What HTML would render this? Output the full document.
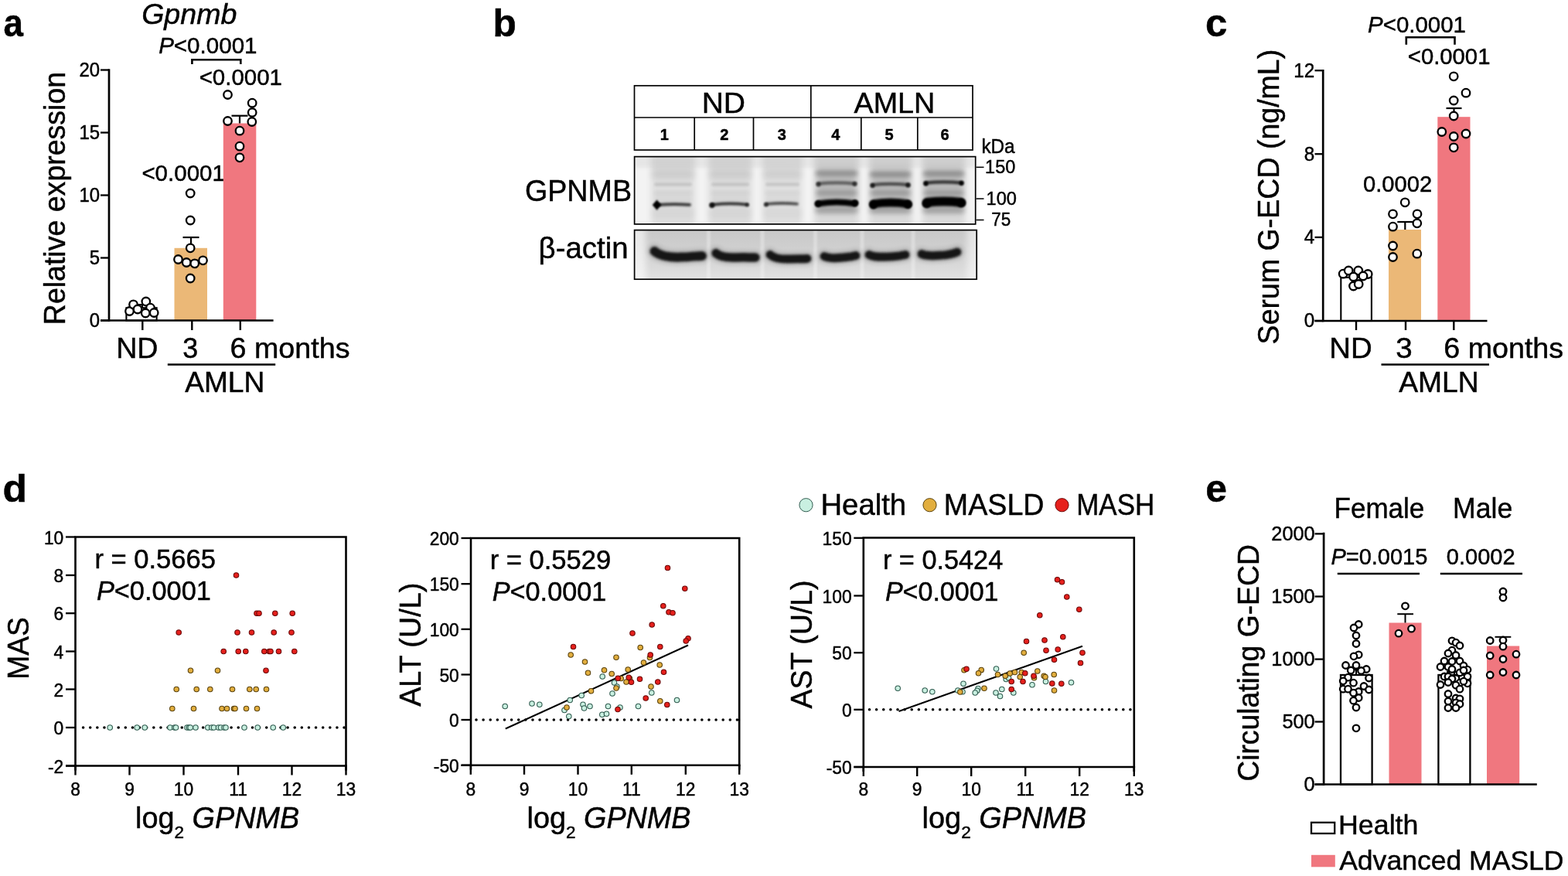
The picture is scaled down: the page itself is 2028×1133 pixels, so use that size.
<!DOCTYPE html>
<html lang="en"><head><meta charset="utf-8"><title>Figure</title>
<style>
html,body{margin:0;padding:0;background:#fff;}
body{width:2028px;height:1133px;overflow:hidden;}
svg{display:block;position:absolute;left:0;top:0;}
text{font-family:"Liberation Sans",sans-serif;fill:#000;stroke:#000;stroke-width:0.45px;}
</style></head><body>
<svg width="2028" height="1133" viewBox="0 0 2028 1133">
<rect x="0" y="0" width="2028" height="1133" fill="#fff"/>
<g id="panel-a">
<text id="t1" transform="translate(4.53 46.5) scale(0.9625 1.04)" font-size="47.5" text-anchor="start" font-weight="bold" >a</text>
<text id="t2" transform="translate(244.74 30.6) scale(1.044 1.04)" font-size="36" text-anchor="middle" font-style="italic" >Gpnmb</text>
<text id="t3" transform="translate(268.84 69) scale(1.0198 1.04)" font-size="29" text-anchor="middle" ><tspan font-style="italic">P</tspan>&lt;0.0001</text>
<path d="M248.4 83 V77.2 H311.3 V83" fill="none" stroke="#000" stroke-width="2.6"/>
<text id="t4" transform="translate(311.25 110.3) scale(1.0158 1.04)" font-size="29" text-anchor="middle" >&lt;0.0001</text>
<text id="t5" transform="translate(237.12 234.3) scale(1.0174 1.04)" font-size="29" text-anchor="middle" >&lt;0.0001</text>
<rect x="163.4" y="398.2" width="39.2" height="16.3" fill="#fff" stroke="#000" stroke-width="2.1" />
<rect x="225.5" y="320.8" width="42.5" height="93.69999999999999" fill="#EBB877" stroke="none" stroke-width="0" />
<rect x="288.8" y="159.5" width="42.5" height="255.0" fill="#F0777F" stroke="none" stroke-width="0" />
<line x1="247" y1="320.8" x2="247" y2="307" stroke="#000" stroke-width="2.2" />
<line x1="236.5" y1="307" x2="257.5" y2="307" stroke="#000" stroke-width="2.2" />
<line x1="310" y1="159.5" x2="310" y2="149.7" stroke="#000" stroke-width="2.2" />
<line x1="299.5" y1="149.7" x2="320.5" y2="149.7" stroke="#000" stroke-width="2.2" />
<line x1="184" y1="398" x2="184" y2="394" stroke="#000" stroke-width="2" />
<line x1="176" y1="394" x2="192" y2="394" stroke="#000" stroke-width="2" />
<line x1="141" y1="89.3" x2="141" y2="415.8" stroke="#000" stroke-width="2.7" />
<line x1="130" y1="414.5" x2="353.6" y2="414.5" stroke="#000" stroke-width="2.7" />
<line x1="130" y1="90.5" x2="141" y2="90.5" stroke="#000" stroke-width="2.3" />
<text id="t6" transform="translate(129.2 98.9) scale(1 1.04)" font-size="24" text-anchor="end" >20</text>
<line x1="130" y1="171.5" x2="141" y2="171.5" stroke="#000" stroke-width="2.3" />
<text id="t7" transform="translate(129.2 179.9) scale(1 1.04)" font-size="24" text-anchor="end" >15</text>
<line x1="130" y1="252.5" x2="141" y2="252.5" stroke="#000" stroke-width="2.3" />
<text id="t8" transform="translate(129.2 260.9) scale(1 1.04)" font-size="24" text-anchor="end" >10</text>
<line x1="130" y1="333.5" x2="141" y2="333.5" stroke="#000" stroke-width="2.3" />
<text id="t9" transform="translate(129.2 341.9) scale(1 1.04)" font-size="24" text-anchor="end" >5</text>
<line x1="130" y1="414.5" x2="141" y2="414.5" stroke="#000" stroke-width="2.3" />
<text id="t10" transform="translate(129.2 422.9) scale(1 1.04)" font-size="24" text-anchor="end" >0</text>
<line x1="184.3" y1="414.5" x2="184.3" y2="427" stroke="#000" stroke-width="2.4" />
<line x1="248.3" y1="414.5" x2="248.3" y2="427" stroke="#000" stroke-width="2.4" />
<line x1="310.8" y1="414.5" x2="310.8" y2="427" stroke="#000" stroke-width="2.4" />
<circle cx="294.5" cy="122.5" r="5.25" fill="#fff" stroke="#000" stroke-width="2.3"/>
<circle cx="326.2" cy="133.2" r="5.25" fill="#fff" stroke="#000" stroke-width="2.3"/>
<circle cx="326.2" cy="145.5" r="5.25" fill="#fff" stroke="#000" stroke-width="2.3"/>
<circle cx="294.5" cy="156.5" r="5.25" fill="#fff" stroke="#000" stroke-width="2.3"/>
<circle cx="325.8" cy="157.5" r="5.25" fill="#fff" stroke="#000" stroke-width="2.3"/>
<circle cx="310" cy="169.2" r="5.25" fill="#fff" stroke="#000" stroke-width="2.3"/>
<circle cx="310" cy="189.2" r="5.25" fill="#fff" stroke="#000" stroke-width="2.3"/>
<circle cx="310" cy="203.8" r="5.25" fill="#fff" stroke="#000" stroke-width="2.3"/>
<circle cx="246.2" cy="250" r="5.25" fill="#fff" stroke="#000" stroke-width="2.3"/>
<circle cx="246.2" cy="285" r="5.25" fill="#fff" stroke="#000" stroke-width="2.3"/>
<circle cx="246.2" cy="320.8" r="5.25" fill="#fff" stroke="#000" stroke-width="2.3"/>
<circle cx="230.5" cy="335.5" r="5.25" fill="#fff" stroke="#000" stroke-width="2.3"/>
<circle cx="241.2" cy="339.5" r="5.25" fill="#fff" stroke="#000" stroke-width="2.3"/>
<circle cx="251.8" cy="340.8" r="5.25" fill="#fff" stroke="#000" stroke-width="2.3"/>
<circle cx="262.5" cy="336.8" r="5.25" fill="#fff" stroke="#000" stroke-width="2.3"/>
<circle cx="246.2" cy="360" r="5.25" fill="#fff" stroke="#000" stroke-width="2.3"/>
<circle cx="167.5" cy="402.5" r="5.25" fill="#fff" stroke="#000" stroke-width="2.3"/>
<circle cx="172.5" cy="393.8" r="5.25" fill="#fff" stroke="#000" stroke-width="2.3"/>
<circle cx="178" cy="400" r="5.25" fill="#fff" stroke="#000" stroke-width="2.3"/>
<circle cx="188.8" cy="390" r="5.25" fill="#fff" stroke="#000" stroke-width="2.3"/>
<circle cx="194.5" cy="398.2" r="5.25" fill="#fff" stroke="#000" stroke-width="2.3"/>
<circle cx="188.2" cy="405" r="5.25" fill="#fff" stroke="#000" stroke-width="2.3"/>
<circle cx="199.2" cy="404.5" r="5.25" fill="#fff" stroke="#000" stroke-width="2.3"/>
<text id="t11" transform="translate(83.8 256.52) rotate(-90) scale(1.014 1.04)" font-size="37" text-anchor="middle" >Relative expression</text>
<text id="t12" transform="translate(177.32 462.6) scale(1.0448 1.04)" font-size="36" text-anchor="middle" >ND</text>
<text id="t13" transform="translate(246.29 462.6) scale(0.9954 1.04)" font-size="36" text-anchor="middle" >3</text>
<text id="t14" transform="translate(297.56 462.6) scale(1.0471 1.04)" font-size="36" text-anchor="start" >6 months</text>
<line x1="216.8" y1="471.5" x2="356.2" y2="471.5" stroke="#000" stroke-width="2.5" />
<text id="t15" transform="translate(290.73 506.6) scale(1.0544 1.04)" font-size="35.2" text-anchor="middle" >AMLN</text>
</g>
<g id="panel-b">
<text id="t16" transform="translate(637.59 46.5) scale(1.0332 1.04)" font-size="48" text-anchor="start" font-weight="bold" >b</text>
<rect x="820.5" y="110.8" width="437.5" height="83.2" fill="#fff" stroke="#000" stroke-width="1.7" />
<line x1="820.5" y1="152" x2="1258" y2="152" stroke="#000" stroke-width="1.7" />
<line x1="1048.8" y1="110.8" x2="1048.8" y2="194" stroke="#000" stroke-width="1.7" />
<line x1="898.2" y1="152" x2="898.2" y2="194" stroke="#000" stroke-width="1.7" />
<line x1="974.5" y1="152" x2="974.5" y2="194" stroke="#000" stroke-width="1.7" />
<line x1="1113.8" y1="152" x2="1113.8" y2="194" stroke="#000" stroke-width="1.7" />
<line x1="1186.8" y1="152" x2="1186.8" y2="194" stroke="#000" stroke-width="1.7" />
<text id="t17" transform="translate(935.79 146.3) scale(1.0839 1.04)" font-size="36" text-anchor="middle" >ND</text>
<text id="t18" transform="translate(1156.9 146.3) scale(1.0475 1.04)" font-size="36" text-anchor="middle" >AMLN</text>
<text id="t19" transform="translate(859.2 180.8) scale(1 1.04)" font-size="20" text-anchor="middle" font-weight="bold" >1</text>
<text id="t20" transform="translate(936.8 180.8) scale(1 1.04)" font-size="20" text-anchor="middle" font-weight="bold" >2</text>
<text id="t21" transform="translate(1011.2 180.8) scale(1 1.04)" font-size="20" text-anchor="middle" font-weight="bold" >3</text>
<text id="t22" transform="translate(1080.8 180.8) scale(1 1.04)" font-size="20" text-anchor="middle" font-weight="bold" >4</text>
<text id="t23" transform="translate(1150 180.8) scale(1 1.04)" font-size="20" text-anchor="middle" font-weight="bold" >5</text>
<text id="t24" transform="translate(1222 180.8) scale(1 1.04)" font-size="20" text-anchor="middle" font-weight="bold" >6</text>
<text id="t25" transform="translate(1269.38 197.8) scale(1.012 1.04)" font-size="24" text-anchor="start" >kDa</text>
<defs>
<filter id="bl0" filterUnits="userSpaceOnUse" x="790" y="180" width="500" height="200"><feGaussianBlur stdDeviation="1.0"/></filter>
<filter id="bl1" filterUnits="userSpaceOnUse" x="790" y="180" width="500" height="200"><feGaussianBlur stdDeviation="1.3"/></filter>
<filter id="bl15" filterUnits="userSpaceOnUse" x="790" y="180" width="500" height="200"><feGaussianBlur stdDeviation="1.8"/></filter>
<filter id="bl2" filterUnits="userSpaceOnUse" x="790" y="180" width="500" height="200"><feGaussianBlur stdDeviation="2.6"/></filter>
<filter id="bl3" filterUnits="userSpaceOnUse" x="790" y="180" width="500" height="200"><feGaussianBlur stdDeviation="4"/></filter>
<linearGradient id="bgA" x1="0" y1="0" x2="0" y2="1"><stop offset="0" stop-color="#c8c8c8"/><stop offset="0.3" stop-color="#cecece"/><stop offset="0.62" stop-color="#d6d6d6"/><stop offset="1" stop-color="#e3e3e3"/></linearGradient>
<clipPath id="cpG"><rect x="821" y="203" width="440.3" height="86.5"/></clipPath>
<clipPath id="cpA"><rect x="821" y="298" width="441.8" height="62.8"/></clipPath>
</defs>
<g clip-path="url(#cpG)">
<rect x="820" y="202" width="443" height="89" fill="#f3f3f3" stroke="none" stroke-width="0" />
<rect x="842" y="196" width="57" height="100" fill="#000" opacity="0.085" filter="url(#bl3)"/>
<rect x="916" y="196" width="56.5" height="100" fill="#000" opacity="0.09" filter="url(#bl3)"/>
<rect x="986" y="196" width="51.5" height="100" fill="#000" opacity="0.08" filter="url(#bl3)"/>
<rect x="1053" y="196" width="58" height="100" fill="#000" opacity="0.1" filter="url(#bl3)"/>
<rect x="1124" y="196" width="56" height="100" fill="#000" opacity="0.1" filter="url(#bl3)"/>
<rect x="1192.5" y="196" width="56.0" height="100" fill="#000" opacity="0.1" filter="url(#bl3)"/>
<rect x="821" y="203" width="441" height="14" fill="#000" opacity="0.05" filter="url(#bl2)"/>
<path d="M848 225 Q870.5 225 893 225" fill="none" stroke="#000" stroke-width="11" stroke-linecap="round" opacity="0.085" filter="url(#bl3)"/>
<path d="M848 238.5 Q870.5 238.5 893 238.5" fill="none" stroke="#000" stroke-width="4" stroke-linecap="round" opacity="0.12" filter="url(#bl15)"/>
<path d="M848 250 Q870.5 250 893 250" fill="none" stroke="#000" stroke-width="5" stroke-linecap="round" opacity="0.06" filter="url(#bl2)"/>
<path d="M848 258 Q870.5 258 893 258" fill="none" stroke="#000" stroke-width="4" stroke-linecap="round" opacity="0.05" filter="url(#bl2)"/>
<path d="M848 276 Q870.5 276 893 276" fill="none" stroke="#000" stroke-width="12" stroke-linecap="round" opacity="0.04" filter="url(#bl3)"/>
<path d="M922 225 Q944.5 225 967 225" fill="none" stroke="#000" stroke-width="11" stroke-linecap="round" opacity="0.085" filter="url(#bl3)"/>
<path d="M922 238.5 Q944.5 238.5 967 238.5" fill="none" stroke="#000" stroke-width="4" stroke-linecap="round" opacity="0.12" filter="url(#bl15)"/>
<path d="M922 250 Q944.5 250 967 250" fill="none" stroke="#000" stroke-width="5" stroke-linecap="round" opacity="0.06" filter="url(#bl2)"/>
<path d="M922 258 Q944.5 258 967 258" fill="none" stroke="#000" stroke-width="4" stroke-linecap="round" opacity="0.05" filter="url(#bl2)"/>
<path d="M922 276 Q944.5 276 967 276" fill="none" stroke="#000" stroke-width="12" stroke-linecap="round" opacity="0.04" filter="url(#bl3)"/>
<path d="M992 225 Q1012.0 225 1032 225" fill="none" stroke="#000" stroke-width="11" stroke-linecap="round" opacity="0.085" filter="url(#bl3)"/>
<path d="M992 238.5 Q1012.0 238.5 1032 238.5" fill="none" stroke="#000" stroke-width="4" stroke-linecap="round" opacity="0.12" filter="url(#bl15)"/>
<path d="M992 250 Q1012.0 250 1032 250" fill="none" stroke="#000" stroke-width="5" stroke-linecap="round" opacity="0.06" filter="url(#bl2)"/>
<path d="M992 258 Q1012.0 258 1032 258" fill="none" stroke="#000" stroke-width="4" stroke-linecap="round" opacity="0.05" filter="url(#bl2)"/>
<path d="M992 276 Q1012.0 276 1032 276" fill="none" stroke="#000" stroke-width="12" stroke-linecap="round" opacity="0.04" filter="url(#bl3)"/>
<path d="M852 264.8 Q872.0 263.3 892 264.8" fill="none" stroke="#000" stroke-width="3.8" stroke-linecap="round" opacity="0.8" filter="url(#bl15)"/>
<path d="M849.6 258.6 L855.4 265 L849.6 271.8 L843.8 265 Z" fill="#000" opacity="1" filter="url(#bl0)"/>
<path d="M923 264.6 Q944.5 262.20000000000005 966 264.6" fill="none" stroke="#000" stroke-width="3.8" stroke-linecap="round" opacity="0.82" filter="url(#bl15)"/>
<circle cx="920.8" cy="265.3" r="3.6" fill="#000" opacity="0.9" filter="url(#bl1)"/>
<circle cx="966.5" cy="264.8" r="2.6" fill="#000" opacity="0.6" filter="url(#bl1)"/>
<path d="M993 263.8 Q1012.0 262.0 1031 263.8" fill="none" stroke="#000" stroke-width="3.6" stroke-linecap="round" opacity="0.7" filter="url(#bl15)"/>
<circle cx="990.8" cy="264.5" r="3" fill="#000" opacity="0.75" filter="url(#bl1)"/>
<rect x="1056" y="218" width="52" height="58" fill="#000" opacity="0.15" filter="url(#bl3)"/>
<path d="M1058 224 Q1082.0 224 1106 224" fill="none" stroke="#000" stroke-width="7" stroke-linecap="round" opacity="0.22" filter="url(#bl2)"/>
<path d="M1058 237.6 Q1082.0 235.1 1106 237.6" fill="none" stroke="#000" stroke-width="4.2" stroke-linecap="round" opacity="0.5" filter="url(#bl15)"/>
<path d="M1058 249.5 Q1082.0 249.5 1106 249.5" fill="none" stroke="#000" stroke-width="6" stroke-linecap="round" opacity="0.17" filter="url(#bl2)"/>
<path d="M1058 272 Q1082.0 272 1106 272" fill="none" stroke="#000" stroke-width="8" stroke-linecap="round" opacity="0.14" filter="url(#bl2)"/>
<circle cx="1058.5" cy="238.4" r="3.1" fill="#000" opacity="0.6" filter="url(#bl1)"/>
<circle cx="1105.5" cy="237.79999999999998" r="3.1" fill="#000" opacity="0.6" filter="url(#bl1)"/>
<rect x="1126" y="218" width="51" height="58" fill="#000" opacity="0.15" filter="url(#bl3)"/>
<path d="M1128 225.5 Q1151.5 225.5 1175 225.5" fill="none" stroke="#000" stroke-width="7" stroke-linecap="round" opacity="0.22" filter="url(#bl2)"/>
<path d="M1128 239.2 Q1151.5 236.7 1175 239.2" fill="none" stroke="#000" stroke-width="4.2" stroke-linecap="round" opacity="0.62" filter="url(#bl15)"/>
<path d="M1128 249.5 Q1151.5 249.5 1175 249.5" fill="none" stroke="#000" stroke-width="6" stroke-linecap="round" opacity="0.17" filter="url(#bl2)"/>
<path d="M1128 272 Q1151.5 272 1175 272" fill="none" stroke="#000" stroke-width="8" stroke-linecap="round" opacity="0.14" filter="url(#bl2)"/>
<circle cx="1128.5" cy="240.0" r="3.1" fill="#000" opacity="0.75" filter="url(#bl1)"/>
<circle cx="1174.5" cy="239.39999999999998" r="3.1" fill="#000" opacity="0.75" filter="url(#bl1)"/>
<rect x="1195" y="218" width="51" height="58" fill="#000" opacity="0.15" filter="url(#bl3)"/>
<path d="M1197 224.5 Q1220.5 224.5 1244 224.5" fill="none" stroke="#000" stroke-width="7" stroke-linecap="round" opacity="0.22" filter="url(#bl2)"/>
<path d="M1197 236.6 Q1220.5 234.1 1244 236.6" fill="none" stroke="#000" stroke-width="4.2" stroke-linecap="round" opacity="0.75" filter="url(#bl15)"/>
<path d="M1197 249.5 Q1220.5 249.5 1244 249.5" fill="none" stroke="#000" stroke-width="6" stroke-linecap="round" opacity="0.17" filter="url(#bl2)"/>
<path d="M1197 272 Q1220.5 272 1244 272" fill="none" stroke="#000" stroke-width="8" stroke-linecap="round" opacity="0.14" filter="url(#bl2)"/>
<circle cx="1197.5" cy="237.4" r="3.1" fill="#000" opacity="0.95" filter="url(#bl1)"/>
<circle cx="1243.5" cy="236.79999999999998" r="3.1" fill="#000" opacity="0.95" filter="url(#bl1)"/>
<path d="M1059.5 263.2 Q1082.25 259.7 1105 263.2" fill="none" stroke="#000" stroke-width="8" stroke-linecap="round" opacity="1" filter="url(#bl15)"/>
<circle cx="1057.8" cy="263.6" r="4.4" fill="#000" filter="url(#bl1)"/>
<circle cx="1106" cy="262.6" r="4.4" fill="#000" filter="url(#bl1)"/>
<path d="M1130 263.6 Q1151.75 260.6 1173.5 263.6" fill="none" stroke="#000" stroke-width="11" stroke-linecap="round" opacity="1" filter="url(#bl15)"/>
<circle cx="1129.5" cy="265" r="5.4" fill="#000" filter="url(#bl1)"/>
<circle cx="1174.5" cy="264.5" r="5.4" fill="#000" filter="url(#bl1)"/>
<path d="M1199 261.8 Q1220.75 259.3 1242.5 261.8" fill="none" stroke="#000" stroke-width="12" stroke-linecap="round" opacity="1" filter="url(#bl15)"/>
<circle cx="1198.5" cy="263.5" r="5.8" fill="#000" filter="url(#bl1)"/>
<circle cx="1243.5" cy="262.5" r="5.8" fill="#000" filter="url(#bl1)"/>
</g>
<rect x="820.6" y="202.6" width="441.1" height="87.3" fill="none" stroke="#000" stroke-width="1.7" />
<line x1="1262.5" y1="216.3" x2="1272.5" y2="216.3" stroke="#000" stroke-width="1.5" />
<line x1="1262.5" y1="257" x2="1272.5" y2="257" stroke="#000" stroke-width="1.5" />
<line x1="1262.5" y1="284.5" x2="1272.5" y2="284.5" stroke="#000" stroke-width="1.5" />
<text id="t26" transform="translate(1313.25 224) scale(0.9994 1.04)" font-size="23.5" text-anchor="end" >150</text>
<text id="t27" transform="translate(1314.94 264.8) scale(1.0054 1.04)" font-size="23.5" text-anchor="end" >100</text>
<text id="t28" transform="translate(1307.36 292.3) scale(0.9568 1.04)" font-size="23.5" text-anchor="end" >75</text>
<g clip-path="url(#cpA)">
<rect x="820" y="297" width="445" height="66" fill="url(#bgA)" stroke="none" stroke-width="0" />
<rect x="810" y="290" width="25" height="80" fill="#fff" opacity="0.6" filter="url(#bl3)"/>
<rect x="1251" y="290" width="20" height="80" fill="#fff" opacity="0.5" filter="url(#bl3)"/>
<rect x="914.0" y="290" width="5" height="80" fill="#fff" opacity="0.3" filter="url(#bl1)"/>
<rect x="983.5" y="290" width="5" height="80" fill="#fff" opacity="0.3" filter="url(#bl1)"/>
<rect x="1052.0" y="290" width="5" height="80" fill="#fff" opacity="0.3" filter="url(#bl1)"/>
<rect x="1112.5" y="290" width="5" height="80" fill="#fff" opacity="0.3" filter="url(#bl1)"/>
<rect x="1178.5" y="290" width="5" height="80" fill="#fff" opacity="0.3" filter="url(#bl1)"/>
<path d="M846.5 325 C854 331.5 866 333 880 332.6 S900 331 908 331" fill="none" stroke="#000" stroke-width="19" stroke-linecap="round" stroke-linejoin="round" opacity="0.13" filter="url(#bl2)"/>
<path d="M846.5 325 C854 331.5 866 333 880 332.6 S900 331 908 331" fill="none" stroke="#141414" stroke-width="12" stroke-linecap="round" stroke-linejoin="round" filter="url(#bl15)"/>
<path d="M926 327.5 C931 332 940 333.5 952 333 S968 333 977 333" fill="none" stroke="#000" stroke-width="18.5" stroke-linecap="round" stroke-linejoin="round" opacity="0.13" filter="url(#bl2)"/>
<path d="M926 327.5 C931 332 940 333.5 952 333 S968 333 977 333" fill="none" stroke="#141414" stroke-width="11.5" stroke-linecap="round" stroke-linejoin="round" filter="url(#bl15)"/>
<path d="M996 329.5 C1001 334 1010 335.5 1022 335 S1037 335 1044 334.5" fill="none" stroke="#000" stroke-width="18" stroke-linecap="round" stroke-linejoin="round" opacity="0.13" filter="url(#bl2)"/>
<path d="M996 329.5 C1001 334 1010 335.5 1022 335 S1037 335 1044 334.5" fill="none" stroke="#141414" stroke-width="11" stroke-linecap="round" stroke-linejoin="round" filter="url(#bl15)"/>
<path d="M1066 331.5 C1072 334 1080 334 1088 333.2 S1100 332.5 1107 330.5" fill="none" stroke="#000" stroke-width="18" stroke-linecap="round" stroke-linejoin="round" opacity="0.13" filter="url(#bl2)"/>
<path d="M1066 331.5 C1072 334 1080 334 1088 333.2 S1100 332.5 1107 330.5" fill="none" stroke="#141414" stroke-width="11" stroke-linecap="round" stroke-linejoin="round" filter="url(#bl15)"/>
<path d="M1124 329.5 C1130 333 1140 332.5 1150 332 S1162 331.5 1171 329.5" fill="none" stroke="#000" stroke-width="18" stroke-linecap="round" stroke-linejoin="round" opacity="0.13" filter="url(#bl2)"/>
<path d="M1124 329.5 C1130 333 1140 332.5 1150 332 S1162 331.5 1171 329.5" fill="none" stroke="#141414" stroke-width="11" stroke-linecap="round" stroke-linejoin="round" filter="url(#bl15)"/>
<path d="M1192 328.5 C1198 331.5 1207 331 1216 330.3 S1230 329.5 1238 326" fill="none" stroke="#000" stroke-width="18" stroke-linecap="round" stroke-linejoin="round" opacity="0.13" filter="url(#bl2)"/>
<path d="M1192 328.5 C1198 331.5 1207 331 1216 330.3 S1230 329.5 1238 326" fill="none" stroke="#141414" stroke-width="11" stroke-linecap="round" stroke-linejoin="round" filter="url(#bl15)"/>
</g>
<rect x="820.6" y="297.6" width="442.6" height="63.6" fill="none" stroke="#000" stroke-width="1.7" />
<text id="t29" transform="translate(817.1 260) scale(1.0186 1.04)" font-size="37" text-anchor="end" >GPNMB</text>
<text id="t30" transform="translate(812.56 333.7) scale(1.0384 1.04)" font-size="37" text-anchor="end" >β-actin</text>
</g>
<g id="panel-c">
<text id="t31" transform="translate(1559.11 46.5) scale(1.0724 1.04)" font-size="47.5" text-anchor="start" font-weight="bold" >c</text>
<text id="t32" transform="translate(1832.49 41.5) scale(1.0156 1.04)" font-size="29" text-anchor="middle" ><tspan font-style="italic">P</tspan>&lt;0.0001</text>
<path d="M1818.8 57.7 V48.3 H1881.5 V57.7" fill="none" stroke="#000" stroke-width="2.6"/>
<text id="t33" transform="translate(1874.12 83) scale(1.0091 1.04)" font-size="29" text-anchor="middle" >&lt;0.0001</text>
<text id="t34" transform="translate(1807.52 248.3) scale(1.0066 1.04)" font-size="29" text-anchor="middle" >0.0002</text>
<rect x="1734.3" y="358.8" width="39.6" height="56.19999999999999" fill="#fff" stroke="#000" stroke-width="2.1" />
<rect x="1796" y="297" width="42" height="118" fill="#EBB877" stroke="none" stroke-width="0" />
<rect x="1859.3" y="151.2" width="42.2" height="263.8" fill="#F0777F" stroke="none" stroke-width="0" />
<line x1="1817.3" y1="297" x2="1817.3" y2="287" stroke="#000" stroke-width="2.2" />
<line x1="1807.3" y1="287" x2="1827.3" y2="287" stroke="#000" stroke-width="2.2" />
<line x1="1880.5" y1="151.2" x2="1880.5" y2="140" stroke="#000" stroke-width="2.2" />
<line x1="1870.5" y1="140" x2="1890.5" y2="140" stroke="#000" stroke-width="2.2" />
<line x1="1711.2" y1="90" x2="1711.2" y2="416.3" stroke="#000" stroke-width="2.7" />
<line x1="1700.5" y1="415" x2="1923.5" y2="415" stroke="#000" stroke-width="2.7" />
<line x1="1700.5" y1="91.2" x2="1711.2" y2="91.2" stroke="#000" stroke-width="2.3" />
<text id="t35" transform="translate(1700.2 99.60000000000001) scale(1 1.04)" font-size="24.2" text-anchor="end" >12</text>
<line x1="1700.5" y1="199.2" x2="1711.2" y2="199.2" stroke="#000" stroke-width="2.3" />
<text id="t36" transform="translate(1700.2 207.6) scale(1 1.04)" font-size="24.2" text-anchor="end" >8</text>
<line x1="1700.5" y1="306.9" x2="1711.2" y2="306.9" stroke="#000" stroke-width="2.3" />
<text id="t37" transform="translate(1700.2 315.29999999999995) scale(1 1.04)" font-size="24.2" text-anchor="end" >4</text>
<line x1="1700.5" y1="415" x2="1711.2" y2="415" stroke="#000" stroke-width="2.3" />
<text id="t38" transform="translate(1700.2 423.4) scale(1 1.04)" font-size="24.2" text-anchor="end" >0</text>
<line x1="1754" y1="415" x2="1754" y2="427" stroke="#000" stroke-width="2.4" />
<line x1="1818" y1="415" x2="1818" y2="427" stroke="#000" stroke-width="2.4" />
<line x1="1880.3" y1="415" x2="1880.3" y2="427" stroke="#000" stroke-width="2.4" />
<circle cx="1880.2" cy="98.8" r="5.25" fill="#fff" stroke="#000" stroke-width="2.3"/>
<circle cx="1896" cy="120.2" r="5.25" fill="#fff" stroke="#000" stroke-width="2.3"/>
<circle cx="1880.2" cy="130" r="5.25" fill="#fff" stroke="#000" stroke-width="2.3"/>
<circle cx="1880.2" cy="150" r="5.25" fill="#fff" stroke="#000" stroke-width="2.3"/>
<circle cx="1864.8" cy="170.5" r="5.25" fill="#fff" stroke="#000" stroke-width="2.3"/>
<circle cx="1896" cy="173" r="5.25" fill="#fff" stroke="#000" stroke-width="2.3"/>
<circle cx="1880.2" cy="176.5" r="5.25" fill="#fff" stroke="#000" stroke-width="2.3"/>
<circle cx="1880.2" cy="190.8" r="5.25" fill="#fff" stroke="#000" stroke-width="2.3"/>
<circle cx="1817.2" cy="261.8" r="5.25" fill="#fff" stroke="#000" stroke-width="2.3"/>
<circle cx="1801.5" cy="276.8" r="5.25" fill="#fff" stroke="#000" stroke-width="2.3"/>
<circle cx="1833" cy="276.8" r="5.25" fill="#fff" stroke="#000" stroke-width="2.3"/>
<circle cx="1801.5" cy="293.2" r="5.25" fill="#fff" stroke="#000" stroke-width="2.3"/>
<circle cx="1832.8" cy="288.8" r="5.25" fill="#fff" stroke="#000" stroke-width="2.3"/>
<circle cx="1801.5" cy="318" r="5.25" fill="#fff" stroke="#000" stroke-width="2.3"/>
<circle cx="1801.5" cy="332.5" r="5.25" fill="#fff" stroke="#000" stroke-width="2.3"/>
<circle cx="1832.8" cy="328.2" r="5.25" fill="#fff" stroke="#000" stroke-width="2.3"/>
<circle cx="1737.2" cy="354.2" r="5.25" fill="#fff" stroke="#000" stroke-width="2.3"/>
<circle cx="1744.2" cy="350" r="5.25" fill="#fff" stroke="#000" stroke-width="2.3"/>
<circle cx="1756.8" cy="350" r="5.25" fill="#fff" stroke="#000" stroke-width="2.3"/>
<circle cx="1769.2" cy="354.5" r="5.25" fill="#fff" stroke="#000" stroke-width="2.3"/>
<circle cx="1750.5" cy="358" r="5.25" fill="#fff" stroke="#000" stroke-width="2.3"/>
<circle cx="1763" cy="357" r="5.25" fill="#fff" stroke="#000" stroke-width="2.3"/>
<circle cx="1750.5" cy="370" r="5.25" fill="#fff" stroke="#000" stroke-width="2.3"/>
<circle cx="1757.2" cy="367.5" r="5.25" fill="#fff" stroke="#000" stroke-width="2.3"/>
<text id="t39" transform="translate(1653.6 254.59) rotate(-90) scale(1.0146 1.04)" font-size="37" text-anchor="middle" >Serum G-ECD (ng/mL)</text>
<text id="t40" transform="translate(1747.06 462.6) scale(1.0677 1.04)" font-size="36" text-anchor="middle" >ND</text>
<text id="t41" transform="translate(1816.09 462.6) scale(1.0707 1.04)" font-size="36" text-anchor="middle" >3</text>
<text id="t42" transform="translate(1867.27 462.6) scale(1.0461 1.04)" font-size="36" text-anchor="start" >6 months</text>
<line x1="1786.5" y1="471.5" x2="1926" y2="471.5" stroke="#000" stroke-width="2.5" />
<text id="t43" transform="translate(1860.9 506.6) scale(1.0583 1.04)" font-size="35.2" text-anchor="middle" >AMLN</text>
</g>
<g id="panel-d">
<text id="t44" transform="translate(3.59 649.3) scale(1.0752 1.04)" font-size="48" text-anchor="start" font-weight="bold" >d</text>
<path d="M97.5 996.5 V694.5 H447.5 V996.5" fill="none" stroke="#000" stroke-width="2.6"/>
<line x1="85.0" y1="990.5" x2="448.8" y2="990.5" stroke="#000" stroke-width="2.6" />
<line x1="85.0" y1="694.5" x2="97.5" y2="694.5" stroke="#000" stroke-width="2.3" />
<text id="t45" transform="translate(82.3 703.6) scale(1 1.04)" font-size="22.8" text-anchor="end" >10</text>
<line x1="85.0" y1="744" x2="97.5" y2="744" stroke="#000" stroke-width="2.3" />
<text id="t46" transform="translate(82.3 753.1) scale(1 1.04)" font-size="22.8" text-anchor="end" >8</text>
<line x1="85.0" y1="793.2" x2="97.5" y2="793.2" stroke="#000" stroke-width="2.3" />
<text id="t47" transform="translate(82.3 802.3000000000001) scale(1 1.04)" font-size="22.8" text-anchor="end" >6</text>
<line x1="85.0" y1="842.5" x2="97.5" y2="842.5" stroke="#000" stroke-width="2.3" />
<text id="t48" transform="translate(82.3 851.6) scale(1 1.04)" font-size="22.8" text-anchor="end" >4</text>
<line x1="85.0" y1="891.5" x2="97.5" y2="891.5" stroke="#000" stroke-width="2.3" />
<text id="t49" transform="translate(82.3 900.6) scale(1 1.04)" font-size="22.8" text-anchor="end" >2</text>
<line x1="85.0" y1="941" x2="97.5" y2="941" stroke="#000" stroke-width="2.3" />
<text id="t50" transform="translate(82.3 950.1) scale(1 1.04)" font-size="22.8" text-anchor="end" >0</text>
<line x1="85.0" y1="990.5" x2="97.5" y2="990.5" stroke="#000" stroke-width="2.3" />
<text id="t51" transform="translate(82.3 999.6) scale(1 1.04)" font-size="22.8" text-anchor="end" >-2</text>
<line x1="97.5" y1="990.5" x2="97.5" y2="1002.5" stroke="#000" stroke-width="2.4" />
<text id="t52" transform="translate(97.5 1028.5) scale(1 1.04)" font-size="22.8" text-anchor="middle" >8</text>
<line x1="167.5" y1="990.5" x2="167.5" y2="1002.5" stroke="#000" stroke-width="2.4" />
<text id="t53" transform="translate(167.5 1028.5) scale(1 1.04)" font-size="22.8" text-anchor="middle" >9</text>
<line x1="237.5" y1="990.5" x2="237.5" y2="1002.5" stroke="#000" stroke-width="2.4" />
<text id="t54" transform="translate(237.5 1028.5) scale(1 1.04)" font-size="22.8" text-anchor="middle" >10</text>
<line x1="308" y1="990.5" x2="308" y2="1002.5" stroke="#000" stroke-width="2.4" />
<text id="t55" transform="translate(308 1028.5) scale(1 1.04)" font-size="22.8" text-anchor="middle" >11</text>
<line x1="377.5" y1="990.5" x2="377.5" y2="1002.5" stroke="#000" stroke-width="2.4" />
<text id="t56" transform="translate(377.5 1028.5) scale(1 1.04)" font-size="22.8" text-anchor="middle" >12</text>
<line x1="447.5" y1="990.5" x2="447.5" y2="1002.5" stroke="#000" stroke-width="2.4" />
<text id="t57" transform="translate(447.5 1028.5) scale(1 1.04)" font-size="22.8" text-anchor="middle" >13</text>
<text id="t58" transform="translate(37.3 838.57) rotate(-90) scale(1.0037 1.04)" font-size="37" text-anchor="middle" >MAS</text>
<text id="t59" transform="translate(122.39 735) scale(1.0412 1.04)" font-size="33.2" text-anchor="start" >r = 0.5665</text>
<text id="t60" transform="translate(124.9 775.8) scale(1.0346 1.04)" font-size="33.2" text-anchor="start" ><tspan font-style="italic">P</tspan>&lt;0.0001</text>
<text id="t61" transform="translate(281.19 1071) scale(1.0227 1.04)" font-size="37" text-anchor="middle" >log<tspan font-size="22" dy="12.5">2</tspan><tspan dy="-12.5"> </tspan><tspan font-style="italic">GPNMB</tspan></text>
<line x1="107.6" y1="941" x2="446" y2="941" stroke="#000" stroke-width="3.6" stroke-linecap="round" stroke-dasharray="0.01 9.11"/>
<circle cx="142.2" cy="941" r="3.25" fill="#C9F0E1" stroke="#2f5a4e" stroke-width="1.1"/>
<circle cx="177.2" cy="941" r="3.25" fill="#C9F0E1" stroke="#2f5a4e" stroke-width="1.1"/>
<circle cx="187.2" cy="941" r="3.25" fill="#C9F0E1" stroke="#2f5a4e" stroke-width="1.1"/>
<circle cx="220" cy="941" r="3.25" fill="#C9F0E1" stroke="#2f5a4e" stroke-width="1.1"/>
<circle cx="225.8" cy="941" r="3.25" fill="#C9F0E1" stroke="#2f5a4e" stroke-width="1.1"/>
<circle cx="227.5" cy="941" r="3.25" fill="#C9F0E1" stroke="#2f5a4e" stroke-width="1.1"/>
<circle cx="242" cy="941" r="3.25" fill="#C9F0E1" stroke="#2f5a4e" stroke-width="1.1"/>
<circle cx="244.5" cy="941" r="3.25" fill="#C9F0E1" stroke="#2f5a4e" stroke-width="1.1"/>
<circle cx="246.2" cy="941" r="3.25" fill="#C9F0E1" stroke="#2f5a4e" stroke-width="1.1"/>
<circle cx="253" cy="941" r="3.25" fill="#C9F0E1" stroke="#2f5a4e" stroke-width="1.1"/>
<circle cx="268.8" cy="941" r="3.25" fill="#C9F0E1" stroke="#2f5a4e" stroke-width="1.1"/>
<circle cx="273.8" cy="941" r="3.25" fill="#C9F0E1" stroke="#2f5a4e" stroke-width="1.1"/>
<circle cx="276.5" cy="941" r="3.25" fill="#C9F0E1" stroke="#2f5a4e" stroke-width="1.1"/>
<circle cx="282.5" cy="941" r="3.25" fill="#C9F0E1" stroke="#2f5a4e" stroke-width="1.1"/>
<circle cx="285.5" cy="941" r="3.25" fill="#C9F0E1" stroke="#2f5a4e" stroke-width="1.1"/>
<circle cx="290" cy="941" r="3.25" fill="#C9F0E1" stroke="#2f5a4e" stroke-width="1.1"/>
<circle cx="292" cy="941" r="3.25" fill="#C9F0E1" stroke="#2f5a4e" stroke-width="1.1"/>
<circle cx="316" cy="941" r="3.25" fill="#C9F0E1" stroke="#2f5a4e" stroke-width="1.1"/>
<circle cx="333.2" cy="941" r="3.25" fill="#C9F0E1" stroke="#2f5a4e" stroke-width="1.1"/>
<circle cx="353.2" cy="941" r="3.25" fill="#C9F0E1" stroke="#2f5a4e" stroke-width="1.1"/>
<circle cx="366.2" cy="941" r="3.25" fill="#C9F0E1" stroke="#2f5a4e" stroke-width="1.1"/>
<circle cx="222.8" cy="916.5" r="3.25" fill="#E2AE3E" stroke="#5a430f" stroke-width="1.1"/>
<circle cx="250.5" cy="916.5" r="3.25" fill="#E2AE3E" stroke="#5a430f" stroke-width="1.1"/>
<circle cx="287" cy="916.5" r="3.25" fill="#E2AE3E" stroke="#5a430f" stroke-width="1.1"/>
<circle cx="293.5" cy="916.5" r="3.25" fill="#E2AE3E" stroke="#5a430f" stroke-width="1.1"/>
<circle cx="302.5" cy="916.5" r="3.25" fill="#E2AE3E" stroke="#5a430f" stroke-width="1.1"/>
<circle cx="304" cy="916.5" r="3.25" fill="#E2AE3E" stroke="#5a430f" stroke-width="1.1"/>
<circle cx="318.5" cy="916.5" r="3.25" fill="#E2AE3E" stroke="#5a430f" stroke-width="1.1"/>
<circle cx="332.5" cy="916.5" r="3.25" fill="#E2AE3E" stroke="#5a430f" stroke-width="1.1"/>
<circle cx="228.2" cy="891.5" r="3.25" fill="#E2AE3E" stroke="#5a430f" stroke-width="1.1"/>
<circle cx="254.2" cy="891.5" r="3.25" fill="#E2AE3E" stroke="#5a430f" stroke-width="1.1"/>
<circle cx="271.8" cy="891.5" r="3.25" fill="#E2AE3E" stroke="#5a430f" stroke-width="1.1"/>
<circle cx="300.5" cy="891.5" r="3.25" fill="#E2AE3E" stroke="#5a430f" stroke-width="1.1"/>
<circle cx="322.8" cy="891.5" r="3.25" fill="#E2AE3E" stroke="#5a430f" stroke-width="1.1"/>
<circle cx="331.2" cy="891.5" r="3.25" fill="#E2AE3E" stroke="#5a430f" stroke-width="1.1"/>
<circle cx="344.5" cy="891.5" r="3.25" fill="#E2AE3E" stroke="#5a430f" stroke-width="1.1"/>
<circle cx="246.5" cy="867.2" r="3.25" fill="#E2AE3E" stroke="#5a430f" stroke-width="1.1"/>
<circle cx="281.5" cy="867.2" r="3.25" fill="#E2AE3E" stroke="#5a430f" stroke-width="1.1"/>
<circle cx="305.5" cy="744" r="3.25" fill="#E6201C" stroke="#6a0808" stroke-width="1.1"/>
<circle cx="332" cy="793.2" r="3.25" fill="#E6201C" stroke="#6a0808" stroke-width="1.1"/>
<circle cx="335" cy="793.2" r="3.25" fill="#E6201C" stroke="#6a0808" stroke-width="1.1"/>
<circle cx="355.8" cy="793.2" r="3.25" fill="#E6201C" stroke="#6a0808" stroke-width="1.1"/>
<circle cx="378.2" cy="793.2" r="3.25" fill="#E6201C" stroke="#6a0808" stroke-width="1.1"/>
<circle cx="231.2" cy="818" r="3.25" fill="#E6201C" stroke="#6a0808" stroke-width="1.1"/>
<circle cx="307" cy="818" r="3.25" fill="#E6201C" stroke="#6a0808" stroke-width="1.1"/>
<circle cx="325.5" cy="818" r="3.25" fill="#E6201C" stroke="#6a0808" stroke-width="1.1"/>
<circle cx="354.2" cy="818" r="3.25" fill="#E6201C" stroke="#6a0808" stroke-width="1.1"/>
<circle cx="377" cy="818" r="3.25" fill="#E6201C" stroke="#6a0808" stroke-width="1.1"/>
<circle cx="289.2" cy="842.5" r="3.25" fill="#E6201C" stroke="#6a0808" stroke-width="1.1"/>
<circle cx="308.2" cy="842.5" r="3.25" fill="#E6201C" stroke="#6a0808" stroke-width="1.1"/>
<circle cx="317.8" cy="842.5" r="3.25" fill="#E6201C" stroke="#6a0808" stroke-width="1.1"/>
<circle cx="341.8" cy="842.5" r="3.25" fill="#E6201C" stroke="#6a0808" stroke-width="1.1"/>
<circle cx="348.2" cy="842.5" r="3.25" fill="#E6201C" stroke="#6a0808" stroke-width="1.1"/>
<circle cx="350" cy="842.5" r="3.25" fill="#E6201C" stroke="#6a0808" stroke-width="1.1"/>
<circle cx="360.5" cy="842.5" r="3.25" fill="#E6201C" stroke="#6a0808" stroke-width="1.1"/>
<circle cx="380.8" cy="842.5" r="3.25" fill="#E6201C" stroke="#6a0808" stroke-width="1.1"/>
<circle cx="344" cy="867.2" r="3.25" fill="#E6201C" stroke="#6a0808" stroke-width="1.1"/>
<path d="M609 995.8 V696 H956.2 V995.8" fill="none" stroke="#000" stroke-width="2.6"/>
<line x1="596.5" y1="989.8" x2="957.5" y2="989.8" stroke="#000" stroke-width="2.6" />
<line x1="596.5" y1="696" x2="609" y2="696" stroke="#000" stroke-width="2.3" />
<text id="t62" transform="translate(593.8 705.1) scale(1 1.04)" font-size="22.8" text-anchor="end" >200</text>
<line x1="596.5" y1="755.2" x2="609" y2="755.2" stroke="#000" stroke-width="2.3" />
<text id="t63" transform="translate(593.8 764.3000000000001) scale(1 1.04)" font-size="22.8" text-anchor="end" >150</text>
<line x1="596.5" y1="813.8" x2="609" y2="813.8" stroke="#000" stroke-width="2.3" />
<text id="t64" transform="translate(593.8 822.9) scale(1 1.04)" font-size="22.8" text-anchor="end" >100</text>
<line x1="596.5" y1="872.5" x2="609" y2="872.5" stroke="#000" stroke-width="2.3" />
<text id="t65" transform="translate(593.8 881.6) scale(1 1.04)" font-size="22.8" text-anchor="end" >50</text>
<line x1="596.5" y1="931" x2="609" y2="931" stroke="#000" stroke-width="2.3" />
<text id="t66" transform="translate(593.8 940.1) scale(1 1.04)" font-size="22.8" text-anchor="end" >0</text>
<line x1="596.5" y1="989.8" x2="609" y2="989.8" stroke="#000" stroke-width="2.3" />
<text id="t67" transform="translate(593.8 998.9) scale(1 1.04)" font-size="22.8" text-anchor="end" >-50</text>
<line x1="608.8" y1="989.8" x2="608.8" y2="1001.8" stroke="#000" stroke-width="2.4" />
<text id="t68" transform="translate(608.8 1028.5) scale(1 1.04)" font-size="22.8" text-anchor="middle" >8</text>
<line x1="678" y1="989.8" x2="678" y2="1001.8" stroke="#000" stroke-width="2.4" />
<text id="t69" transform="translate(678 1028.5) scale(1 1.04)" font-size="22.8" text-anchor="middle" >9</text>
<line x1="747.5" y1="989.8" x2="747.5" y2="1001.8" stroke="#000" stroke-width="2.4" />
<text id="t70" transform="translate(747.5 1028.5) scale(1 1.04)" font-size="22.8" text-anchor="middle" >10</text>
<line x1="816.8" y1="989.8" x2="816.8" y2="1001.8" stroke="#000" stroke-width="2.4" />
<text id="t71" transform="translate(816.8 1028.5) scale(1 1.04)" font-size="22.8" text-anchor="middle" >11</text>
<line x1="886.8" y1="989.8" x2="886.8" y2="1001.8" stroke="#000" stroke-width="2.4" />
<text id="t72" transform="translate(886.8 1028.5) scale(1 1.04)" font-size="22.8" text-anchor="middle" >12</text>
<line x1="956.2" y1="989.8" x2="956.2" y2="1001.8" stroke="#000" stroke-width="2.4" />
<text id="t73" transform="translate(956.2 1028.5) scale(1 1.04)" font-size="22.8" text-anchor="middle" >13</text>
<text id="t74" transform="translate(543.8 833.8) rotate(-90) scale(1.0198 1.04)" font-size="37" text-anchor="middle" >ALT (U/L)</text>
<text id="t75" transform="translate(633.66 736.2) scale(1.0413 1.04)" font-size="33.2" text-anchor="start" >r = 0.5529</text>
<text id="t76" transform="translate(636.67 777) scale(1.0327 1.04)" font-size="33.2" text-anchor="start" ><tspan font-style="italic">P</tspan>&lt;0.0001</text>
<text id="t77" transform="translate(787.56 1071) scale(1.0217 1.04)" font-size="37" text-anchor="middle" >log<tspan font-size="22" dy="12.5">2</tspan><tspan dy="-12.5"> </tspan><tspan font-style="italic">GPNMB</tspan></text>
<line x1="616" y1="931" x2="954.5" y2="931" stroke="#000" stroke-width="3.6" stroke-linecap="round" stroke-dasharray="0.01 9.11"/>
<line x1="653.8" y1="942.5" x2="890" y2="834.5" stroke="#000" stroke-width="2" />
<circle cx="779.2" cy="875" r="3.25" fill="#C9F0E1" stroke="#2f5a4e" stroke-width="1.1"/>
<circle cx="794.5" cy="883" r="3.25" fill="#C9F0E1" stroke="#2f5a4e" stroke-width="1.1"/>
<circle cx="798" cy="888" r="3.25" fill="#C9F0E1" stroke="#2f5a4e" stroke-width="1.1"/>
<circle cx="792" cy="897" r="3.25" fill="#C9F0E1" stroke="#2f5a4e" stroke-width="1.1"/>
<circle cx="842.8" cy="896" r="3.25" fill="#C9F0E1" stroke="#2f5a4e" stroke-width="1.1"/>
<circle cx="752.2" cy="899.5" r="3.25" fill="#C9F0E1" stroke="#2f5a4e" stroke-width="1.1"/>
<circle cx="737.2" cy="905.5" r="3.25" fill="#C9F0E1" stroke="#2f5a4e" stroke-width="1.1"/>
<circle cx="653.2" cy="913.5" r="3.25" fill="#C9F0E1" stroke="#2f5a4e" stroke-width="1.1"/>
<circle cx="688" cy="910" r="3.25" fill="#C9F0E1" stroke="#2f5a4e" stroke-width="1.1"/>
<circle cx="697.8" cy="911.2" r="3.25" fill="#C9F0E1" stroke="#2f5a4e" stroke-width="1.1"/>
<circle cx="754" cy="911.2" r="3.25" fill="#C9F0E1" stroke="#2f5a4e" stroke-width="1.1"/>
<circle cx="755.5" cy="916" r="3.25" fill="#C9F0E1" stroke="#2f5a4e" stroke-width="1.1"/>
<circle cx="763" cy="913.5" r="3.25" fill="#C9F0E1" stroke="#2f5a4e" stroke-width="1.1"/>
<circle cx="786.5" cy="913.5" r="3.25" fill="#C9F0E1" stroke="#2f5a4e" stroke-width="1.1"/>
<circle cx="802" cy="915" r="3.25" fill="#C9F0E1" stroke="#2f5a4e" stroke-width="1.1"/>
<circle cx="825.5" cy="913.5" r="3.25" fill="#C9F0E1" stroke="#2f5a4e" stroke-width="1.1"/>
<circle cx="875.5" cy="905.5" r="3.25" fill="#C9F0E1" stroke="#2f5a4e" stroke-width="1.1"/>
<circle cx="730" cy="918.5" r="3.25" fill="#C9F0E1" stroke="#2f5a4e" stroke-width="1.1"/>
<circle cx="735.8" cy="926.5" r="3.25" fill="#C9F0E1" stroke="#2f5a4e" stroke-width="1.1"/>
<circle cx="778.8" cy="924.2" r="3.25" fill="#C9F0E1" stroke="#2f5a4e" stroke-width="1.1"/>
<circle cx="784.5" cy="923.2" r="3.25" fill="#C9F0E1" stroke="#2f5a4e" stroke-width="1.1"/>
<circle cx="738.2" cy="847" r="3.25" fill="#E2AE3E" stroke="#5a430f" stroke-width="1.1"/>
<circle cx="756.5" cy="856" r="3.25" fill="#E2AE3E" stroke="#5a430f" stroke-width="1.1"/>
<circle cx="797" cy="850.2" r="3.25" fill="#E2AE3E" stroke="#5a430f" stroke-width="1.1"/>
<circle cx="828.2" cy="837.5" r="3.25" fill="#E2AE3E" stroke="#5a430f" stroke-width="1.1"/>
<circle cx="840.5" cy="850.5" r="3.25" fill="#E2AE3E" stroke="#5a430f" stroke-width="1.1"/>
<circle cx="832.5" cy="857" r="3.25" fill="#E2AE3E" stroke="#5a430f" stroke-width="1.1"/>
<circle cx="853.2" cy="860" r="3.25" fill="#E2AE3E" stroke="#5a430f" stroke-width="1.1"/>
<circle cx="760.5" cy="870.2" r="3.25" fill="#E2AE3E" stroke="#5a430f" stroke-width="1.1"/>
<circle cx="781.5" cy="866.8" r="3.25" fill="#E2AE3E" stroke="#5a430f" stroke-width="1.1"/>
<circle cx="791.2" cy="871.5" r="3.25" fill="#E2AE3E" stroke="#5a430f" stroke-width="1.1"/>
<circle cx="812.2" cy="866" r="3.25" fill="#E2AE3E" stroke="#5a430f" stroke-width="1.1"/>
<circle cx="803.2" cy="877.5" r="3.25" fill="#E2AE3E" stroke="#5a430f" stroke-width="1.1"/>
<circle cx="814.5" cy="877.5" r="3.25" fill="#E2AE3E" stroke="#5a430f" stroke-width="1.1"/>
<circle cx="810" cy="882" r="3.25" fill="#E2AE3E" stroke="#5a430f" stroke-width="1.1"/>
<circle cx="842" cy="888" r="3.25" fill="#E2AE3E" stroke="#5a430f" stroke-width="1.1"/>
<circle cx="797" cy="890" r="3.25" fill="#E2AE3E" stroke="#5a430f" stroke-width="1.1"/>
<circle cx="764.5" cy="893.8" r="3.25" fill="#E2AE3E" stroke="#5a430f" stroke-width="1.1"/>
<circle cx="853.8" cy="906.8" r="3.25" fill="#E2AE3E" stroke="#5a430f" stroke-width="1.1"/>
<circle cx="733" cy="915" r="3.25" fill="#E2AE3E" stroke="#5a430f" stroke-width="1.1"/>
<circle cx="863.5" cy="734.5" r="3.25" fill="#E6201C" stroke="#6a0808" stroke-width="1.1"/>
<circle cx="885.8" cy="761.2" r="3.25" fill="#E6201C" stroke="#6a0808" stroke-width="1.1"/>
<circle cx="857.8" cy="783.8" r="3.25" fill="#E6201C" stroke="#6a0808" stroke-width="1.1"/>
<circle cx="865" cy="791.8" r="3.25" fill="#E6201C" stroke="#6a0808" stroke-width="1.1"/>
<circle cx="870" cy="792.8" r="3.25" fill="#E6201C" stroke="#6a0808" stroke-width="1.1"/>
<circle cx="843.2" cy="808" r="3.25" fill="#E6201C" stroke="#6a0808" stroke-width="1.1"/>
<circle cx="818" cy="819" r="3.25" fill="#E6201C" stroke="#6a0808" stroke-width="1.1"/>
<circle cx="890" cy="825.8" r="3.25" fill="#E6201C" stroke="#6a0808" stroke-width="1.1"/>
<circle cx="887.2" cy="829" r="3.25" fill="#E6201C" stroke="#6a0808" stroke-width="1.1"/>
<circle cx="741.5" cy="836.5" r="3.25" fill="#E6201C" stroke="#6a0808" stroke-width="1.1"/>
<circle cx="853.8" cy="836.5" r="3.25" fill="#E6201C" stroke="#6a0808" stroke-width="1.1"/>
<circle cx="841.2" cy="847" r="3.25" fill="#E6201C" stroke="#6a0808" stroke-width="1.1"/>
<circle cx="858.5" cy="869.2" r="3.25" fill="#E6201C" stroke="#6a0808" stroke-width="1.1"/>
<circle cx="799.2" cy="877.2" r="3.25" fill="#E6201C" stroke="#6a0808" stroke-width="1.1"/>
<circle cx="813.2" cy="876.2" r="3.25" fill="#E6201C" stroke="#6a0808" stroke-width="1.1"/>
<circle cx="816.5" cy="882.2" r="3.25" fill="#E6201C" stroke="#6a0808" stroke-width="1.1"/>
<circle cx="827.5" cy="878.2" r="3.25" fill="#E6201C" stroke="#6a0808" stroke-width="1.1"/>
<circle cx="850.8" cy="882" r="3.25" fill="#E6201C" stroke="#6a0808" stroke-width="1.1"/>
<circle cx="835.2" cy="903" r="3.25" fill="#E6201C" stroke="#6a0808" stroke-width="1.1"/>
<circle cx="862.8" cy="911.5" r="3.25" fill="#E6201C" stroke="#6a0808" stroke-width="1.1"/>
<circle cx="799" cy="917.5" r="3.25" fill="#E6201C" stroke="#6a0808" stroke-width="1.1"/>
<path d="M1116.8 998 V695.5 H1466.8 V998" fill="none" stroke="#000" stroke-width="2.6"/>
<line x1="1104.3" y1="992" x2="1468.1" y2="992" stroke="#000" stroke-width="2.6" />
<line x1="1104.3" y1="695.8" x2="1116.8" y2="695.8" stroke="#000" stroke-width="2.3" />
<text id="t78" transform="translate(1101.6 704.9) scale(1 1.04)" font-size="22.8" text-anchor="end" >150</text>
<line x1="1104.3" y1="770.5" x2="1116.8" y2="770.5" stroke="#000" stroke-width="2.3" />
<text id="t79" transform="translate(1101.6 779.6) scale(1 1.04)" font-size="22.8" text-anchor="end" >100</text>
<line x1="1104.3" y1="844.2" x2="1116.8" y2="844.2" stroke="#000" stroke-width="2.3" />
<text id="t80" transform="translate(1101.6 853.3000000000001) scale(1 1.04)" font-size="22.8" text-anchor="end" >50</text>
<line x1="1104.3" y1="917.8" x2="1116.8" y2="917.8" stroke="#000" stroke-width="2.3" />
<text id="t81" transform="translate(1101.6 926.9) scale(1 1.04)" font-size="22.8" text-anchor="end" >0</text>
<line x1="1104.3" y1="992" x2="1116.8" y2="992" stroke="#000" stroke-width="2.3" />
<text id="t82" transform="translate(1101.6 1001.1) scale(1 1.04)" font-size="22.8" text-anchor="end" >-50</text>
<line x1="1116.8" y1="992" x2="1116.8" y2="1004" stroke="#000" stroke-width="2.4" />
<text id="t83" transform="translate(1116.8 1028.5) scale(1 1.04)" font-size="22.8" text-anchor="middle" >8</text>
<line x1="1186.2" y1="992" x2="1186.2" y2="1004" stroke="#000" stroke-width="2.4" />
<text id="t84" transform="translate(1186.2 1028.5) scale(1 1.04)" font-size="22.8" text-anchor="middle" >9</text>
<line x1="1256.2" y1="992" x2="1256.2" y2="1004" stroke="#000" stroke-width="2.4" />
<text id="t85" transform="translate(1256.2 1028.5) scale(1 1.04)" font-size="22.8" text-anchor="middle" >10</text>
<line x1="1326.2" y1="992" x2="1326.2" y2="1004" stroke="#000" stroke-width="2.4" />
<text id="t86" transform="translate(1326.2 1028.5) scale(1 1.04)" font-size="22.8" text-anchor="middle" >11</text>
<line x1="1396.2" y1="992" x2="1396.2" y2="1004" stroke="#000" stroke-width="2.4" />
<text id="t87" transform="translate(1396.2 1028.5) scale(1 1.04)" font-size="22.8" text-anchor="middle" >12</text>
<line x1="1466.8" y1="992" x2="1466.8" y2="1004" stroke="#000" stroke-width="2.4" />
<text id="t88" transform="translate(1466.8 1028.5) scale(1 1.04)" font-size="22.8" text-anchor="middle" >13</text>
<text id="t89" transform="translate(1050.0 833.4) rotate(-90) scale(1.0137 1.04)" font-size="37" text-anchor="middle" >AST (U/L)</text>
<text id="t90" transform="translate(1141.92 736.2) scale(1.0327 1.04)" font-size="33.2" text-anchor="start" >r = 0.5424</text>
<text id="t91" transform="translate(1144.91 777) scale(1.0253 1.04)" font-size="33.2" text-anchor="start" ><tspan font-style="italic">P</tspan>&lt;0.0001</text>
<text id="t92" transform="translate(1298.85 1071) scale(1.0241 1.04)" font-size="37" text-anchor="middle" >log<tspan font-size="22" dy="12.5">2</tspan><tspan dy="-12.5"> </tspan><tspan font-style="italic">GPNMB</tspan></text>
<line x1="1124.5" y1="917.8" x2="1465" y2="917.8" stroke="#000" stroke-width="3.6" stroke-linecap="round" stroke-dasharray="0.01 9.11"/>
<line x1="1162.5" y1="920" x2="1400" y2="835.8" stroke="#000" stroke-width="2" />
<circle cx="1288.5" cy="865" r="3.25" fill="#C9F0E1" stroke="#2f5a4e" stroke-width="1.1"/>
<circle cx="1301.2" cy="878.5" r="3.25" fill="#C9F0E1" stroke="#2f5a4e" stroke-width="1.1"/>
<circle cx="1304.5" cy="876.8" r="3.25" fill="#C9F0E1" stroke="#2f5a4e" stroke-width="1.1"/>
<circle cx="1246" cy="884.2" r="3.25" fill="#C9F0E1" stroke="#2f5a4e" stroke-width="1.1"/>
<circle cx="1352.5" cy="881.5" r="3.25" fill="#C9F0E1" stroke="#2f5a4e" stroke-width="1.1"/>
<circle cx="1385.5" cy="882.8" r="3.25" fill="#C9F0E1" stroke="#2f5a4e" stroke-width="1.1"/>
<circle cx="1335" cy="885.8" r="3.25" fill="#C9F0E1" stroke="#2f5a4e" stroke-width="1.1"/>
<circle cx="1161.2" cy="890.2" r="3.25" fill="#C9F0E1" stroke="#2f5a4e" stroke-width="1.1"/>
<circle cx="1196.2" cy="893" r="3.25" fill="#C9F0E1" stroke="#2f5a4e" stroke-width="1.1"/>
<circle cx="1205.8" cy="894.8" r="3.25" fill="#C9F0E1" stroke="#2f5a4e" stroke-width="1.1"/>
<circle cx="1238.8" cy="893" r="3.25" fill="#C9F0E1" stroke="#2f5a4e" stroke-width="1.1"/>
<circle cx="1245" cy="894.8" r="3.25" fill="#C9F0E1" stroke="#2f5a4e" stroke-width="1.1"/>
<circle cx="1265" cy="890.5" r="3.25" fill="#C9F0E1" stroke="#2f5a4e" stroke-width="1.1"/>
<circle cx="1263.8" cy="893.2" r="3.25" fill="#C9F0E1" stroke="#2f5a4e" stroke-width="1.1"/>
<circle cx="1261.2" cy="896" r="3.25" fill="#C9F0E1" stroke="#2f5a4e" stroke-width="1.1"/>
<circle cx="1295.8" cy="891.5" r="3.25" fill="#C9F0E1" stroke="#2f5a4e" stroke-width="1.1"/>
<circle cx="1288" cy="896" r="3.25" fill="#C9F0E1" stroke="#2f5a4e" stroke-width="1.1"/>
<circle cx="1310.8" cy="896" r="3.25" fill="#C9F0E1" stroke="#2f5a4e" stroke-width="1.1"/>
<circle cx="1293.5" cy="900.5" r="3.25" fill="#C9F0E1" stroke="#2f5a4e" stroke-width="1.1"/>
<circle cx="1324.2" cy="844.2" r="3.25" fill="#E2AE3E" stroke="#5a430f" stroke-width="1.1"/>
<circle cx="1247" cy="866.8" r="3.25" fill="#E2AE3E" stroke="#5a430f" stroke-width="1.1"/>
<circle cx="1269.2" cy="866.5" r="3.25" fill="#E2AE3E" stroke="#5a430f" stroke-width="1.1"/>
<circle cx="1265.5" cy="870.8" r="3.25" fill="#E2AE3E" stroke="#5a430f" stroke-width="1.1"/>
<circle cx="1290.5" cy="872.5" r="3.25" fill="#E2AE3E" stroke="#5a430f" stroke-width="1.1"/>
<circle cx="1300.2" cy="874.2" r="3.25" fill="#E2AE3E" stroke="#5a430f" stroke-width="1.1"/>
<circle cx="1306.2" cy="871" r="3.25" fill="#E2AE3E" stroke="#5a430f" stroke-width="1.1"/>
<circle cx="1312.5" cy="869.5" r="3.25" fill="#E2AE3E" stroke="#5a430f" stroke-width="1.1"/>
<circle cx="1321.2" cy="869.5" r="3.25" fill="#E2AE3E" stroke="#5a430f" stroke-width="1.1"/>
<circle cx="1319.2" cy="875.5" r="3.25" fill="#E2AE3E" stroke="#5a430f" stroke-width="1.1"/>
<circle cx="1341.8" cy="868" r="3.25" fill="#E2AE3E" stroke="#5a430f" stroke-width="1.1"/>
<circle cx="1337.5" cy="876.8" r="3.25" fill="#E2AE3E" stroke="#5a430f" stroke-width="1.1"/>
<circle cx="1350.2" cy="874.2" r="3.25" fill="#E2AE3E" stroke="#5a430f" stroke-width="1.1"/>
<circle cx="1352" cy="875.5" r="3.25" fill="#E2AE3E" stroke="#5a430f" stroke-width="1.1"/>
<circle cx="1363.2" cy="872.5" r="3.25" fill="#E2AE3E" stroke="#5a430f" stroke-width="1.1"/>
<circle cx="1273" cy="890.2" r="3.25" fill="#E2AE3E" stroke="#5a430f" stroke-width="1.1"/>
<circle cx="1241.8" cy="895" r="3.25" fill="#E2AE3E" stroke="#5a430f" stroke-width="1.1"/>
<circle cx="1363.5" cy="893" r="3.25" fill="#E2AE3E" stroke="#5a430f" stroke-width="1.1"/>
<circle cx="1367.5" cy="749.8" r="3.25" fill="#E6201C" stroke="#6a0808" stroke-width="1.1"/>
<circle cx="1373.5" cy="752.8" r="3.25" fill="#E6201C" stroke="#6a0808" stroke-width="1.1"/>
<circle cx="1379.8" cy="772" r="3.25" fill="#E6201C" stroke="#6a0808" stroke-width="1.1"/>
<circle cx="1395.8" cy="788.2" r="3.25" fill="#E6201C" stroke="#6a0808" stroke-width="1.1"/>
<circle cx="1344.8" cy="795.8" r="3.25" fill="#E6201C" stroke="#6a0808" stroke-width="1.1"/>
<circle cx="1374.8" cy="823.8" r="3.25" fill="#E6201C" stroke="#6a0808" stroke-width="1.1"/>
<circle cx="1351" cy="828" r="3.25" fill="#E6201C" stroke="#6a0808" stroke-width="1.1"/>
<circle cx="1327.5" cy="829.5" r="3.25" fill="#E6201C" stroke="#6a0808" stroke-width="1.1"/>
<circle cx="1353" cy="841.2" r="3.25" fill="#E6201C" stroke="#6a0808" stroke-width="1.1"/>
<circle cx="1368.2" cy="840" r="3.25" fill="#E6201C" stroke="#6a0808" stroke-width="1.1"/>
<circle cx="1400" cy="844.2" r="3.25" fill="#E6201C" stroke="#6a0808" stroke-width="1.1"/>
<circle cx="1363.5" cy="853.2" r="3.25" fill="#E6201C" stroke="#6a0808" stroke-width="1.1"/>
<circle cx="1397.5" cy="857.5" r="3.25" fill="#E6201C" stroke="#6a0808" stroke-width="1.1"/>
<circle cx="1250" cy="865.2" r="3.25" fill="#E6201C" stroke="#6a0808" stroke-width="1.1"/>
<circle cx="1325.8" cy="870.8" r="3.25" fill="#E6201C" stroke="#6a0808" stroke-width="1.1"/>
<circle cx="1337" cy="874.2" r="3.25" fill="#E6201C" stroke="#6a0808" stroke-width="1.1"/>
<circle cx="1308.2" cy="881.5" r="3.25" fill="#E6201C" stroke="#6a0808" stroke-width="1.1"/>
<circle cx="1323" cy="881.5" r="3.25" fill="#E6201C" stroke="#6a0808" stroke-width="1.1"/>
<circle cx="1360.8" cy="884" r="3.25" fill="#E6201C" stroke="#6a0808" stroke-width="1.1"/>
<circle cx="1372.8" cy="884.2" r="3.25" fill="#E6201C" stroke="#6a0808" stroke-width="1.1"/>
<circle cx="1308.2" cy="891.5" r="3.25" fill="#E6201C" stroke="#6a0808" stroke-width="1.1"/>
<circle cx="1042.5" cy="653.2" r="8.6" fill="#C9F0E1" stroke="#2f5a4e" stroke-width="1"/>
<text id="t93" transform="translate(1061.47 666.2) scale(1.0458 1.04)" font-size="36.6" text-anchor="start" >Health</text>
<circle cx="1202.5" cy="653.2" r="8.6" fill="#E2AE3E" stroke="#5a430f" stroke-width="1"/>
<text id="t94" transform="translate(1220.83 666.2) scale(1.0287 1.04)" font-size="36.6" text-anchor="start" >MASLD</text>
<circle cx="1373.5" cy="653.2" r="8.6" fill="#E6201C" stroke="#6a0808" stroke-width="1"/>
<text id="t95" transform="translate(1392.24 666.2) scale(0.955 1.04)" font-size="36.6" text-anchor="start" >MASH</text>
</g>
<g id="panel-e">
<text id="t96" transform="translate(1559.27 648.5) scale(1.0486 1.04)" font-size="47.5" text-anchor="start" font-weight="bold" >e</text>
<text id="t97" transform="translate(1783.93 669.7) scale(0.965 1.04)" font-size="36.3" text-anchor="middle" >Female</text>
<text id="t98" transform="translate(1917.68 669.7) scale(0.9815 1.04)" font-size="36.3" text-anchor="middle" >Male</text>
<text id="t99" transform="translate(1783.88 729.8) scale(1.0007 1.04)" font-size="29" text-anchor="middle" ><tspan font-style="italic">P</tspan>=0.0015</text>
<text id="t100" transform="translate(1915.19 729.8) scale(1.0011 1.04)" font-size="29" text-anchor="middle" >0.0002</text>
<line x1="1729.8" y1="742" x2="1836" y2="742" stroke="#000" stroke-width="2.5" />
<line x1="1862.8" y1="742" x2="1969" y2="742" stroke="#000" stroke-width="2.5" />
<rect x="1734" y="873" width="40.6" height="141.5" fill="#fff" stroke="#000" stroke-width="2.3" />
<rect x="1796.5" y="805.5" width="42" height="209.0" fill="#F0777F" stroke="none" stroke-width="0" />
<rect x="1860.4" y="873" width="41" height="141.5" fill="#fff" stroke="#000" stroke-width="2.3" />
<rect x="1923" y="835.5" width="42.2" height="179.0" fill="#F0777F" stroke="none" stroke-width="0" />
<line x1="1817.5" y1="805.5" x2="1817.5" y2="794.2" stroke="#000" stroke-width="2" />
<line x1="1807.3" y1="794.2" x2="1828" y2="794.2" stroke="#000" stroke-width="2" />
<line x1="1944" y1="835.5" x2="1944" y2="823.8" stroke="#000" stroke-width="2" />
<line x1="1933.5" y1="823.8" x2="1954.3" y2="823.8" stroke="#000" stroke-width="2" />
<line x1="1754" y1="873" x2="1754" y2="866" stroke="#000" stroke-width="2" />
<line x1="1744" y1="866" x2="1764" y2="866" stroke="#000" stroke-width="2" />
<line x1="1881" y1="873" x2="1881" y2="869" stroke="#000" stroke-width="2" />
<line x1="1871" y1="869" x2="1891" y2="869" stroke="#000" stroke-width="2" />
<line x1="1712.1" y1="688.7" x2="1712.1" y2="1015.8" stroke="#000" stroke-width="2.7" />
<line x1="1700.5" y1="1014.5" x2="1987.8" y2="1014.5" stroke="#000" stroke-width="2.7" />
<line x1="1700.5" y1="690.4" x2="1712.1" y2="690.4" stroke="#000" stroke-width="2.3" />
<text id="t101" transform="translate(1700.6 699.0) scale(1 1.04)" font-size="25.3" text-anchor="end" >2000</text>
<line x1="1700.5" y1="771.5" x2="1712.1" y2="771.5" stroke="#000" stroke-width="2.3" />
<text id="t102" transform="translate(1700.6 780.1) scale(1 1.04)" font-size="25.3" text-anchor="end" >1500</text>
<line x1="1700.5" y1="852.6" x2="1712.1" y2="852.6" stroke="#000" stroke-width="2.3" />
<text id="t103" transform="translate(1700.6 861.2) scale(1 1.04)" font-size="25.3" text-anchor="end" >1000</text>
<line x1="1700.5" y1="933.5" x2="1712.1" y2="933.5" stroke="#000" stroke-width="2.3" />
<text id="t104" transform="translate(1700.6 942.1) scale(1 1.04)" font-size="25.3" text-anchor="end" >500</text>
<line x1="1700.5" y1="1014.5" x2="1712.1" y2="1014.5" stroke="#000" stroke-width="2.3" />
<text id="t105" transform="translate(1700.6 1023.1) scale(1 1.04)" font-size="25.3" text-anchor="end" >0</text>
<circle cx="1757.2" cy="807.5" r="4.25" fill="#fff" stroke="#000" stroke-width="2.3"/>
<circle cx="1751" cy="812" r="4.25" fill="#fff" stroke="#000" stroke-width="2.3"/>
<circle cx="1754" cy="822" r="4.25" fill="#fff" stroke="#000" stroke-width="2.3"/>
<circle cx="1754" cy="832.5" r="4.25" fill="#fff" stroke="#000" stroke-width="2.3"/>
<circle cx="1757.2" cy="846.8" r="4.25" fill="#fff" stroke="#000" stroke-width="2.3"/>
<circle cx="1751" cy="848.8" r="4.25" fill="#fff" stroke="#000" stroke-width="2.3"/>
<circle cx="1740.5" cy="860.5" r="4.25" fill="#fff" stroke="#000" stroke-width="2.3"/>
<circle cx="1754" cy="860.5" r="4.25" fill="#fff" stroke="#000" stroke-width="2.3"/>
<circle cx="1767.2" cy="865.5" r="4.25" fill="#fff" stroke="#000" stroke-width="2.3"/>
<circle cx="1747.2" cy="867" r="4.25" fill="#fff" stroke="#000" stroke-width="2.3"/>
<circle cx="1760.5" cy="867.5" r="4.25" fill="#fff" stroke="#000" stroke-width="2.3"/>
<circle cx="1743.5" cy="876.2" r="4.25" fill="#fff" stroke="#000" stroke-width="2.3"/>
<circle cx="1770.5" cy="877" r="4.25" fill="#fff" stroke="#000" stroke-width="2.3"/>
<circle cx="1737.2" cy="880.8" r="4.25" fill="#fff" stroke="#000" stroke-width="2.3"/>
<circle cx="1750.5" cy="883.2" r="4.25" fill="#fff" stroke="#000" stroke-width="2.3"/>
<circle cx="1764" cy="887.5" r="4.25" fill="#fff" stroke="#000" stroke-width="2.3"/>
<circle cx="1737.2" cy="891.2" r="4.25" fill="#fff" stroke="#000" stroke-width="2.3"/>
<circle cx="1743.5" cy="891.2" r="4.25" fill="#fff" stroke="#000" stroke-width="2.3"/>
<circle cx="1770.5" cy="892" r="4.25" fill="#fff" stroke="#000" stroke-width="2.3"/>
<circle cx="1757.2" cy="894.5" r="4.25" fill="#fff" stroke="#000" stroke-width="2.3"/>
<circle cx="1750.5" cy="896.2" r="4.25" fill="#fff" stroke="#000" stroke-width="2.3"/>
<circle cx="1757.2" cy="902.5" r="4.25" fill="#fff" stroke="#000" stroke-width="2.3"/>
<circle cx="1750.5" cy="906.2" r="4.25" fill="#fff" stroke="#000" stroke-width="2.3"/>
<circle cx="1754" cy="915" r="4.25" fill="#fff" stroke="#000" stroke-width="2.3"/>
<circle cx="1754" cy="941.8" r="4.25" fill="#fff" stroke="#000" stroke-width="2.3"/>
<circle cx="1817.5" cy="783.8" r="4.25" fill="#fff" stroke="#000" stroke-width="2.3"/>
<circle cx="1825.5" cy="813.2" r="4.25" fill="#fff" stroke="#000" stroke-width="2.3"/>
<circle cx="1809" cy="819.2" r="4.25" fill="#fff" stroke="#000" stroke-width="2.3"/>
<circle cx="1878" cy="828.8" r="4.25" fill="#fff" stroke="#000" stroke-width="2.3"/>
<circle cx="1883" cy="831.2" r="4.25" fill="#fff" stroke="#000" stroke-width="2.3"/>
<circle cx="1888" cy="835" r="4.25" fill="#fff" stroke="#000" stroke-width="2.3"/>
<circle cx="1878" cy="841.2" r="4.25" fill="#fff" stroke="#000" stroke-width="2.3"/>
<circle cx="1873" cy="845" r="4.25" fill="#fff" stroke="#000" stroke-width="2.3"/>
<circle cx="1883" cy="847.5" r="4.25" fill="#fff" stroke="#000" stroke-width="2.3"/>
<circle cx="1868" cy="855" r="4.25" fill="#fff" stroke="#000" stroke-width="2.3"/>
<circle cx="1878" cy="855.5" r="4.25" fill="#fff" stroke="#000" stroke-width="2.3"/>
<circle cx="1888" cy="855" r="4.25" fill="#fff" stroke="#000" stroke-width="2.3"/>
<circle cx="1863" cy="862.5" r="4.25" fill="#fff" stroke="#000" stroke-width="2.3"/>
<circle cx="1873" cy="862.5" r="4.25" fill="#fff" stroke="#000" stroke-width="2.3"/>
<circle cx="1893" cy="861" r="4.25" fill="#fff" stroke="#000" stroke-width="2.3"/>
<circle cx="1878" cy="865.5" r="4.25" fill="#fff" stroke="#000" stroke-width="2.3"/>
<circle cx="1898" cy="866.2" r="4.25" fill="#fff" stroke="#000" stroke-width="2.3"/>
<circle cx="1888" cy="870" r="4.25" fill="#fff" stroke="#000" stroke-width="2.3"/>
<circle cx="1893" cy="867" r="4.25" fill="#fff" stroke="#000" stroke-width="2.3"/>
<circle cx="1868" cy="875" r="4.25" fill="#fff" stroke="#000" stroke-width="2.3"/>
<circle cx="1873" cy="875" r="4.25" fill="#fff" stroke="#000" stroke-width="2.3"/>
<circle cx="1898" cy="875" r="4.25" fill="#fff" stroke="#000" stroke-width="2.3"/>
<circle cx="1883" cy="877.5" r="4.25" fill="#fff" stroke="#000" stroke-width="2.3"/>
<circle cx="1878" cy="878" r="4.25" fill="#fff" stroke="#000" stroke-width="2.3"/>
<circle cx="1863" cy="885.5" r="4.25" fill="#fff" stroke="#000" stroke-width="2.3"/>
<circle cx="1873" cy="882.5" r="4.25" fill="#fff" stroke="#000" stroke-width="2.3"/>
<circle cx="1888" cy="883.2" r="4.25" fill="#fff" stroke="#000" stroke-width="2.3"/>
<circle cx="1898" cy="883.8" r="4.25" fill="#fff" stroke="#000" stroke-width="2.3"/>
<circle cx="1893" cy="881.2" r="4.25" fill="#fff" stroke="#000" stroke-width="2.3"/>
<circle cx="1883" cy="886.2" r="4.25" fill="#fff" stroke="#000" stroke-width="2.3"/>
<circle cx="1888" cy="891.2" r="4.25" fill="#fff" stroke="#000" stroke-width="2.3"/>
<circle cx="1873" cy="897.5" r="4.25" fill="#fff" stroke="#000" stroke-width="2.3"/>
<circle cx="1883" cy="903" r="4.25" fill="#fff" stroke="#000" stroke-width="2.3"/>
<circle cx="1888" cy="903.8" r="4.25" fill="#fff" stroke="#000" stroke-width="2.3"/>
<circle cx="1873" cy="907" r="4.25" fill="#fff" stroke="#000" stroke-width="2.3"/>
<circle cx="1883" cy="908.8" r="4.25" fill="#fff" stroke="#000" stroke-width="2.3"/>
<circle cx="1888" cy="910.5" r="4.25" fill="#fff" stroke="#000" stroke-width="2.3"/>
<circle cx="1873" cy="915.5" r="4.25" fill="#fff" stroke="#000" stroke-width="2.3"/>
<circle cx="1883" cy="915.5" r="4.25" fill="#fff" stroke="#000" stroke-width="2.3"/>
<circle cx="1944" cy="765" r="4.25" fill="#fff" stroke="#000" stroke-width="2.3"/>
<circle cx="1944" cy="773" r="4.25" fill="#fff" stroke="#000" stroke-width="2.3"/>
<circle cx="1927.2" cy="828.5" r="4.25" fill="#fff" stroke="#000" stroke-width="2.3"/>
<circle cx="1944" cy="828" r="4.25" fill="#fff" stroke="#000" stroke-width="2.3"/>
<circle cx="1944" cy="836.2" r="4.25" fill="#fff" stroke="#000" stroke-width="2.3"/>
<circle cx="1927.2" cy="848" r="4.25" fill="#fff" stroke="#000" stroke-width="2.3"/>
<circle cx="1961" cy="846.2" r="4.25" fill="#fff" stroke="#000" stroke-width="2.3"/>
<circle cx="1944" cy="852.5" r="4.25" fill="#fff" stroke="#000" stroke-width="2.3"/>
<circle cx="1927.2" cy="873" r="4.25" fill="#fff" stroke="#000" stroke-width="2.3"/>
<circle cx="1944" cy="869.5" r="4.25" fill="#fff" stroke="#000" stroke-width="2.3"/>
<circle cx="1961" cy="873" r="4.25" fill="#fff" stroke="#000" stroke-width="2.3"/>
<text id="t106" transform="translate(1628 857.47) rotate(-90) scale(1.0084 1.04)" font-size="37" text-anchor="middle" >Circulating G-ECD</text>
<rect x="1696" y="1063.8" width="30.2" height="14.2" fill="#fff" stroke="#000" stroke-width="2.3" />
<text id="t107" transform="translate(1731.0 1078.5) scale(1.0343 1.04)" font-size="34.6" text-anchor="start" >Health</text>
<rect x="1696" y="1105.8" width="30.8" height="15.5" fill="#F0777F" stroke="none" stroke-width="0" />
<text id="t108" transform="translate(1732.16 1125) scale(1.0275 1.04)" font-size="34.6" text-anchor="start" >Advanced MASLD</text>
</g>
</svg>
</body></html>
